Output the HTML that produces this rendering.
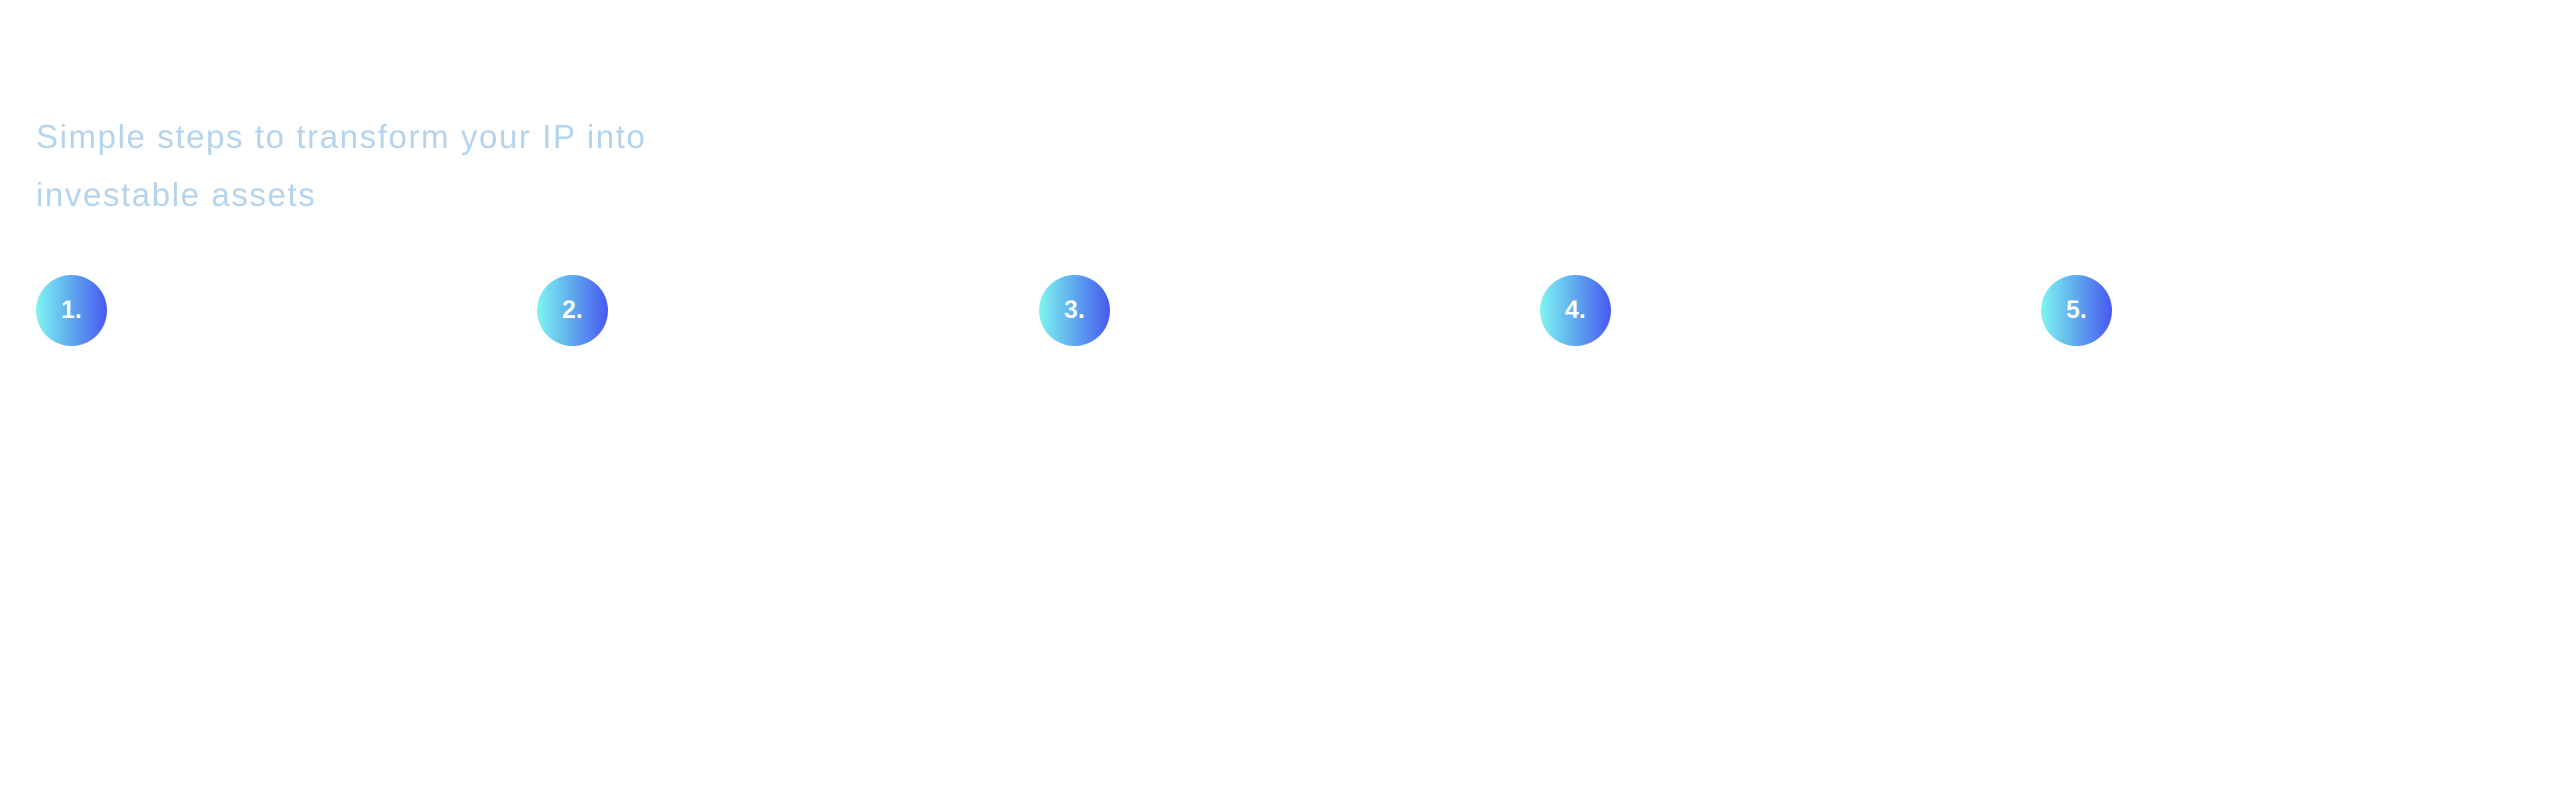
<!DOCTYPE html>
<html><head><meta charset="utf-8"><style>
html,body{margin:0;padding:0;background:#fff;}
body{width:2560px;height:787px;position:relative;overflow:hidden;font-family:"Liberation Sans",sans-serif;}
.t{position:absolute;left:36px;color:#b5d3ec;font-size:33px;white-space:nowrap;letter-spacing:1.6px;}
.c{position:absolute;top:275px;width:71px;height:71px;border-radius:50%;background:linear-gradient(90deg,#7ef5f0 0%,#5fa8ef 50%,#4858f0 100%);color:#fff;font-weight:bold;font-size:25px;line-height:71px;text-align:center;}
</style></head><body>
<div class="t" style="top:118px">Simple steps to transform your IP into</div>
<div class="t" style="top:176px">investable assets</div>
<div class="c" style="left:36px">1.</div>
<div class="c" style="left:537px">2.</div>
<div class="c" style="left:1039px">3.</div>
<div class="c" style="left:1540px">4.</div>
<div class="c" style="left:2041px">5.</div>
</body></html>
